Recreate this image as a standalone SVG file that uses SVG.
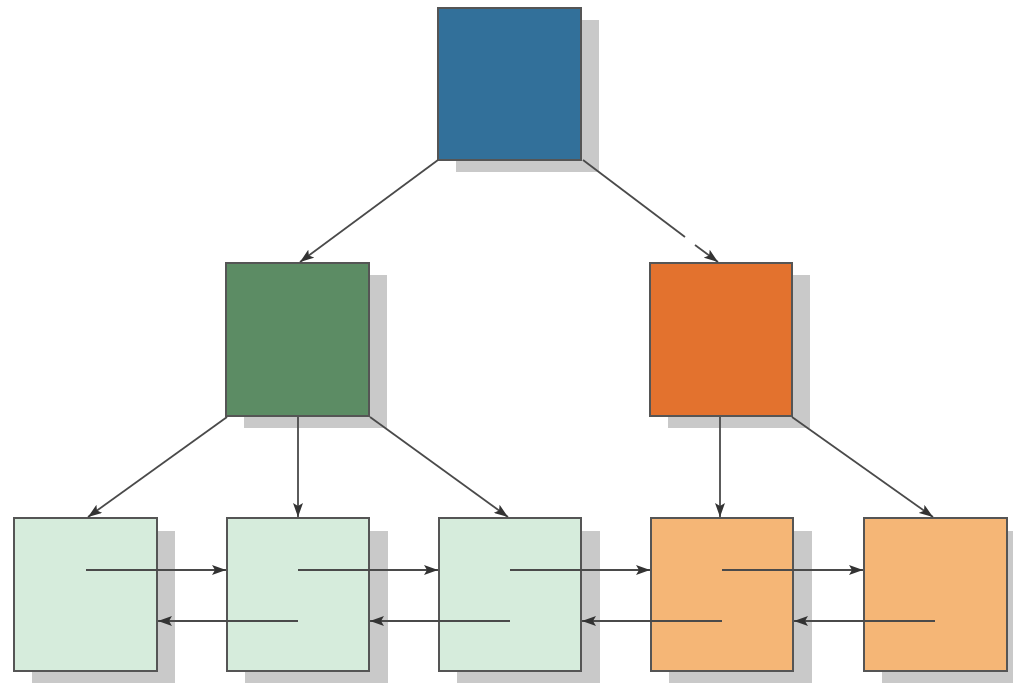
<svg xmlns="http://www.w3.org/2000/svg" width="1013" height="683" viewBox="0 0 1013 683">
<defs>
<style>
.sh{fill:#c9c9c9}
.bx{stroke:#555;stroke-width:2}
.c{stroke:#4a4a4a;stroke-width:1.8;fill:none}
</style>
<marker id="ah" viewBox="0 0 14 10" refX="14" refY="5" markerWidth="14" markerHeight="10" markerUnits="userSpaceOnUse" orient="auto">
<path d="M0,0 L14,5 L0,10 L3,5 Z" fill="#333"/>
</marker>
</defs>
<rect width="1013" height="683" fill="#fff"/>
<g id="n-top"><rect class="sh" x="456" y="20" width="143" height="152"/><rect class="bx" x="438" y="8" width="143" height="152" fill="#32709a"/></g>
<g id="n-green"><rect class="sh" x="244" y="275" width="143" height="153"/><rect class="bx" x="226" y="263" width="143" height="153" fill="#5c8c64"/></g>
<g id="n-orange"><rect class="sh" x="668" y="275" width="142" height="153"/><rect class="bx" x="650" y="263" width="142" height="153" fill="#e3722e"/></g>
<g id="n-b1"><rect class="sh" x="32" y="531" width="143" height="152"/><rect class="bx" x="14" y="518" width="143" height="153" fill="#d6ecdc"/></g>
<g id="n-b2"><rect class="sh" x="245" y="531" width="143" height="152"/><rect class="bx" x="227" y="518" width="142" height="153" fill="#d6ecdc"/></g>
<g id="n-b3"><rect class="sh" x="457" y="531" width="143" height="152"/><rect class="bx" x="439" y="518" width="142" height="153" fill="#d6ecdc"/></g>
<g id="n-b4"><rect class="sh" x="669" y="531" width="143" height="152"/><rect class="bx" x="651" y="518" width="142" height="153" fill="#f5b676"/></g>
<g id="n-b5"><rect class="sh" x="882" y="531" width="131" height="152"/><rect class="bx" x="864" y="518" width="143" height="153" fill="#f5b676"/></g>
<g id="connectors">
<line class="c" x1="438" y1="160" x2="300" y2="262" marker-end="url(#ah)"/>
<line class="c" x1="583" y1="160" x2="685" y2="237"/>
<line class="c" x1="695" y1="245" x2="718" y2="262" marker-end="url(#ah)"/>
<line class="c" x1="227" y1="417" x2="88" y2="517" marker-end="url(#ah)"/>
<line class="c" x1="298" y1="417" x2="298" y2="517" marker-end="url(#ah)"/>
<line class="c" x1="370" y1="417" x2="508" y2="517" marker-end="url(#ah)"/>
<line class="c" x1="720" y1="417" x2="720" y2="517" marker-end="url(#ah)"/>
<line class="c" x1="792" y1="417" x2="933" y2="517" marker-end="url(#ah)"/>
<line class="c" x1="86" y1="570" x2="226" y2="570" marker-end="url(#ah)"/>
<line class="c" x1="298" y1="570" x2="438" y2="570" marker-end="url(#ah)"/>
<line class="c" x1="510" y1="570" x2="650" y2="570" marker-end="url(#ah)"/>
<line class="c" x1="722" y1="570" x2="863" y2="570" marker-end="url(#ah)"/>
<line class="c" x1="298" y1="621" x2="158" y2="621" marker-end="url(#ah)"/>
<line class="c" x1="510" y1="621" x2="370" y2="621" marker-end="url(#ah)"/>
<line class="c" x1="722" y1="621" x2="582" y2="621" marker-end="url(#ah)"/>
<line class="c" x1="935" y1="621" x2="794" y2="621" marker-end="url(#ah)"/>
</g>
</svg>
